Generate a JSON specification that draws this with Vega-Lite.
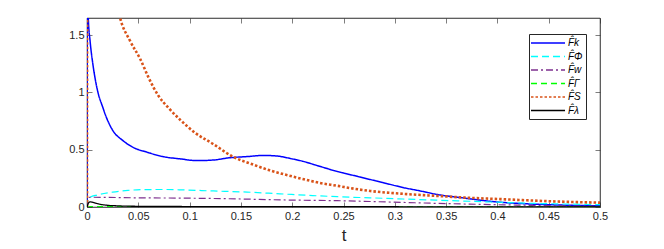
{
  "$schema": "https://vega.github.io/schema/vega-lite/v6.json",
  "width": 513,
  "height": 189,
  "autosize": "none",
  "padding": {"left": 87, "top": 18, "right": 64, "bottom": 42},
  "background": "white",
  "config": {
    "font": "Liberation Sans",
    "view": {"stroke": "#262626", "strokeWidth": 0.6},
    "axis": {"grid": false, "domainColor": "#262626", "domainWidth": 0.6, "tickColor": "#262626", "tickWidth": 0.6, "labelColor": "#262626", "labelFontSize": 11, "labelFont": "Liberation Sans"}
  },
  "data": {"values": [
    {"t":0,"v":0,"s":"k"},{"t":0.0005,"v":2.5,"s":"k"},{"t":0.0013,"v":1.64,"s":"k"},{"t":0.003,"v":1.45,"s":"k"},{"t":0.006,"v":1.23,"s":"k"},{"t":0.0107,"v":1.0,"s":"k"},{"t":0.015,"v":0.88,"s":"k"},{"t":0.019,"v":0.78,"s":"k"},{"t":0.025,"v":0.67,"s":"k"},{"t":0.035,"v":0.58,"s":"k"},{"t":0.045,"v":0.52,"s":"k"},{"t":0.058,"v":0.48,"s":"k"},{"t":0.074,"v":0.44,"s":"k"},{"t":0.091,"v":0.42,"s":"k"},{"t":0.107,"v":0.405,"s":"k"},{"t":0.123,"v":0.41,"s":"k"},{"t":0.139,"v":0.43,"s":"k"},{"t":0.156,"v":0.44,"s":"k"},{"t":0.172,"v":0.45,"s":"k"},{"t":0.185,"v":0.445,"s":"k"},{"t":0.2,"v":0.42,"s":"k"},{"t":0.21,"v":0.4,"s":"k"},{"t":0.225,"v":0.36,"s":"k"},{"t":0.244,"v":0.31,"s":"k"},{"t":0.26,"v":0.275,"s":"k"},{"t":0.276,"v":0.24,"s":"k"},{"t":0.292,"v":0.205,"s":"k"},{"t":0.308,"v":0.17,"s":"k"},{"t":0.325,"v":0.14,"s":"k"},{"t":0.341,"v":0.11,"s":"k"},{"t":0.366,"v":0.08,"s":"k"},{"t":0.396,"v":0.047,"s":"k"},{"t":0.43,"v":0.027,"s":"k"},{"t":0.465,"v":0.016,"s":"k"},{"t":0.5,"v":0.01,"s":"k"},

    {"t":0,"v":0,"s":"phi"},{"t":0.001,"v":0.07,"s":"phi"},{"t":0.003,"v":0.085,"s":"phi"},{"t":0.01,"v":0.105,"s":"phi"},{"t":0.025,"v":0.13,"s":"phi"},{"t":0.04,"v":0.145,"s":"phi"},{"t":0.058,"v":0.152,"s":"phi"},{"t":0.075,"v":0.153,"s":"phi"},{"t":0.09,"v":0.15,"s":"phi"},{"t":0.123,"v":0.14,"s":"phi"},{"t":0.156,"v":0.13,"s":"phi"},{"t":0.188,"v":0.115,"s":"phi"},{"t":0.22,"v":0.1,"s":"phi"},{"t":0.244,"v":0.09,"s":"phi"},{"t":0.276,"v":0.08,"s":"phi"},{"t":0.308,"v":0.07,"s":"phi"},{"t":0.34,"v":0.06,"s":"phi"},{"t":0.373,"v":0.05,"s":"phi"},{"t":0.4,"v":0.042,"s":"phi"},{"t":0.43,"v":0.033,"s":"phi"},{"t":0.465,"v":0.026,"s":"phi"},{"t":0.5,"v":0.02,"s":"phi"},

    {"t":0,"v":0,"s":"w"},{"t":0.001,"v":0.08,"s":"w"},{"t":0.003,"v":0.085,"s":"w"},{"t":0.05,"v":0.08,"s":"w"},{"t":0.1,"v":0.077,"s":"w"},{"t":0.15,"v":0.07,"s":"w"},{"t":0.188,"v":0.062,"s":"w"},{"t":0.22,"v":0.058,"s":"w"},{"t":0.244,"v":0.055,"s":"w"},{"t":0.276,"v":0.048,"s":"w"},{"t":0.308,"v":0.04,"s":"w"},{"t":0.34,"v":0.032,"s":"w"},{"t":0.373,"v":0.025,"s":"w"},{"t":0.4,"v":0.02,"s":"w"},{"t":0.43,"v":0.015,"s":"w"},{"t":0.465,"v":0.01,"s":"w"},{"t":0.5,"v":0.006,"s":"w"},

    {"t":0,"v":0,"s":"gamma"},{"t":0.003,"v":0.004,"s":"gamma"},{"t":0.02,"v":0.004,"s":"gamma"},{"t":0.1,"v":0.003,"s":"gamma"},{"t":0.2,"v":0.003,"s":"gamma"},{"t":0.3,"v":0.002,"s":"gamma"},{"t":0.4,"v":0.002,"s":"gamma"},{"t":0.5,"v":0.001,"s":"gamma"},

    {"t":0,"v":0,"s":"S"},{"t":0.0005,"v":6,"s":"S"},{"t":0.01,"v":3.2,"s":"S"},{"t":0.02,"v":2.3,"s":"S"},{"t":0.032,"v":1.66,"s":"S"},{"t":0.042,"v":1.45,"s":"S"},{"t":0.052,"v":1.29,"s":"S"},{"t":0.06,"v":1.13,"s":"S"},{"t":0.069,"v":0.98,"s":"S"},{"t":0.08,"v":0.86,"s":"S"},{"t":0.091,"v":0.76,"s":"S"},{"t":0.105,"v":0.65,"s":"S"},{"t":0.123,"v":0.55,"s":"S"},{"t":0.142,"v":0.44,"s":"S"},{"t":0.162,"v":0.37,"s":"S"},{"t":0.178,"v":0.32,"s":"S"},{"t":0.19,"v":0.29,"s":"S"},{"t":0.21,"v":0.245,"s":"S"},{"t":0.227,"v":0.21,"s":"S"},{"t":0.244,"v":0.185,"s":"S"},{"t":0.26,"v":0.16,"s":"S"},{"t":0.276,"v":0.14,"s":"S"},{"t":0.308,"v":0.115,"s":"S"},{"t":0.341,"v":0.097,"s":"S"},{"t":0.373,"v":0.08,"s":"S"},{"t":0.4,"v":0.07,"s":"S"},{"t":0.43,"v":0.058,"s":"S"},{"t":0.465,"v":0.046,"s":"S"},{"t":0.5,"v":0.038,"s":"S"},

    {"t":0,"v":0,"s":"lambda"},{"t":0.0015,"v":0.035,"s":"lambda"},{"t":0.003,"v":0.045,"s":"lambda"},{"t":0.006,"v":0.04,"s":"lambda"},{"t":0.012,"v":0.025,"s":"lambda"},{"t":0.02,"v":0.015,"s":"lambda"},{"t":0.03,"v":0.01,"s":"lambda"},{"t":0.05,"v":0.006,"s":"lambda"},{"t":0.1,"v":0.004,"s":"lambda"},{"t":0.2,"v":0.003,"s":"lambda"},{"t":0.3,"v":0.002,"s":"lambda"},{"t":0.5,"v":0.001,"s":"lambda"}
  ]},
  "layer": [
    {
      "encoding": {
        "x": {"field": "t", "type": "quantitative", "scale": {"domain": [0, 0.5], "nice": false},
              "axis": {"orient": "bottom", "values": [0,0.05,0.1,0.15,0.2,0.25,0.3,0.35,0.4,0.45,0.5], "format": "~g", "tickSize": -5, "labelPadding": 8, "labelFlush": false, "title": "t", "titleFontSize": 17, "titleFontWeight": "normal", "titleColor": "#262626", "titlePadding": 6, "titleFont": "Liberation Sans"}},
        "y": {"field": "v", "type": "quantitative", "scale": {"domain": [0, 1.65], "nice": false},
              "axis": {"orient": "left", "values": [0, 0.5, 1, 1.5], "format": "~g", "tickSize": -5, "labelPadding": 8, "labelFlush": false, "title": null}},
        "color": {"field": "s", "type": "nominal",
                  "scale": {"domain": ["k","phi","w","gamma","S","lambda"], "range": ["#0000ff","#00ffff","#7e2f8e","#00ff00","#d95319","#000000"]},
                  "legend": {"title": null, "orient": "none", "legendX": 442, "legendY": 16, "labelExpr": "{'k':'F̂k','phi':'F̂Φ','w':'F̂w','gamma':'F̂Γ','S':'F̂S','lambda':'F̂λ'}[datum.value]", "symbolType": "M-3.4,0H3.4", "symbolSize": 100, "symbolOffset": 10, "symbolStrokeWidth": 1.4, "rowPadding": 2.5, "labelFontSize": 10, "labelFontStyle": "italic", "labelColor": "#000000", "fillColor": "white", "strokeColor": "#262626", "padding": 3, "labelOffset": 14}},
        "strokeDash": {"field": "s", "type": "nominal",
                  "scale": {"domain": ["k","phi","w","gamma","S","lambda"], "range": [[1,0],[7,4],[7,3,2,3],[6,4],[2.5,2],[1,0]]},
                  "legend": null}
      },
      "layer": [
        {"transform": [{"filter": "datum.s == 'k'"}], "mark": {"type": "line", "clip": true, "interpolate": "monotone", "strokeWidth": 1.5}},
        {"transform": [{"filter": "datum.s == 'phi'"}], "mark": {"type": "line", "clip": true, "interpolate": "monotone", "strokeWidth": 1.2}},
        {"transform": [{"filter": "datum.s == 'w'"}], "mark": {"type": "line", "clip": true, "interpolate": "monotone", "strokeWidth": 1.2}},
        {"transform": [{"filter": "datum.s == 'gamma'"}], "mark": {"type": "line", "clip": true, "interpolate": "monotone", "strokeWidth": 1.2}},
        {"transform": [{"filter": "datum.s == 'S'"}], "mark": {"type": "line", "clip": true, "interpolate": "monotone", "strokeWidth": 2.6}},
        {"transform": [{"filter": "datum.s == 'lambda'"}], "mark": {"type": "line", "clip": true, "interpolate": "monotone", "strokeWidth": 1.3}}
      ]
    },
    {
      "mark": {"type": "point", "opacity": 0},
      "encoding": {
        "x": {"field": "t", "type": "quantitative", "axis": {"orient": "top", "values": [0,0.05,0.1,0.15,0.2,0.25,0.3,0.35,0.4,0.45,0.5], "tickSize": -5, "labels": false, "title": null}},
        "y": {"field": "v", "type": "quantitative", "axis": {"orient": "right", "values": [0, 0.5, 1, 1.5], "tickSize": -5, "labels": false, "title": null}}
      }
    }
  ],
  "resolve": {"axis": {"x": "independent", "y": "independent"}}
}
